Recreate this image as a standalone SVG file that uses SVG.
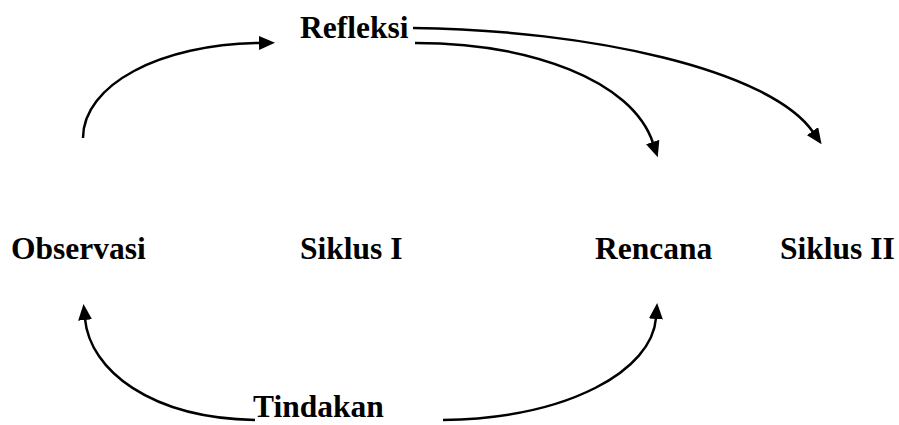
<svg xmlns="http://www.w3.org/2000/svg" width="899" height="425" viewBox="0 0 899 425">
  <style>
    .lbl { font-family: "Liberation Serif", "Times New Roman", serif; font-weight: bold; font-size: 31.5px; fill: #000; }
    .edge { fill: none; stroke: #000; stroke-width: 2.5; marker-end: url(#head); }
  </style>
  <defs>
    <marker id="head" viewBox="0 0 16 14" refX="1" refY="7" markerWidth="16" markerHeight="14" markerUnits="userSpaceOnUse" orient="auto">
      <path d="M0,0 L16,7 L0,14 Z" fill="#000"/>
    </marker>
  </defs>
  <rect width="899" height="425" fill="#fff"/>

  <g id="connectors">
    <!-- Observasi up to Refleksi -->
    <path class="edge" d="M83,138 C83,85 160,44 260,43"/>
    <!-- Refleksi to Siklus II -->
    <path class="edge" d="M413,28 C590,30 770,70 813,132"/>
    <!-- Refleksi to Rencana -->
    <path class="edge" d="M415,43 C530,43 632,80 653,143"/>
    <!-- Tindakan to Observasi -->
    <path class="edge" d="M255,420 C150,418 90,370 85,319"/>
    <!-- Tindakan to Rencana -->
    <path class="edge" d="M443,420 C570,418 652,370 656,318"/>
  </g>

  <g id="refleksi"><text class="lbl" x="300" y="38">Refleksi</text></g>
  <g id="observasi"><text class="lbl" x="11" y="259">Observasi</text></g>
  <g id="siklus-1"><text class="lbl" x="300" y="259">Siklus I</text></g>
  <g id="rencana"><text class="lbl" x="595" y="259">Rencana</text></g>
  <g id="siklus-2"><text class="lbl" x="780" y="259">Siklus II</text></g>
  <g id="tindakan"><text class="lbl" x="253" y="417">Tindakan</text></g>
</svg>
